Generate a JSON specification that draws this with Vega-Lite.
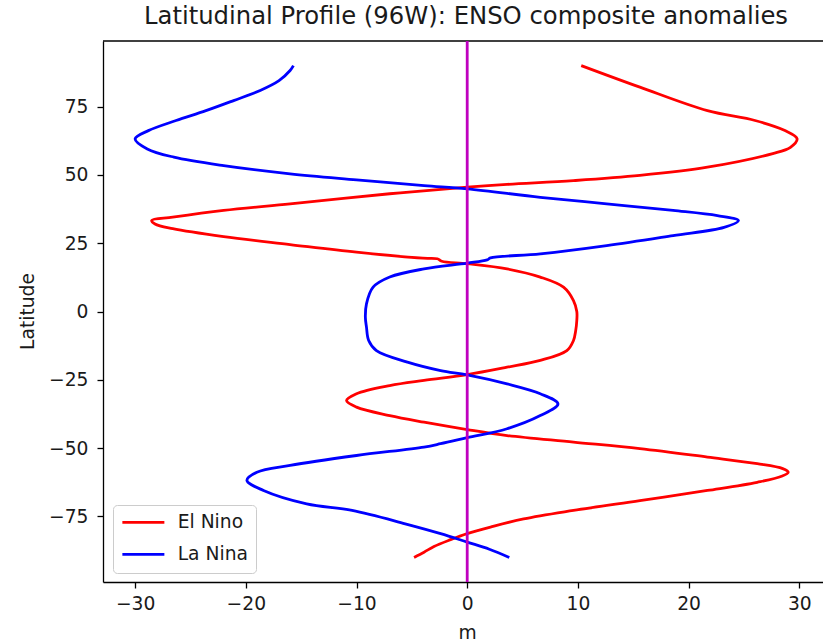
{
  "$schema": "https://vega.github.io/schema/vega-lite/v6.json",
  "width": 720,
  "height": 541,
  "autosize": "none",
  "padding": {"left": 103, "top": 41, "right": 0, "bottom": 59},
  "background": "white",
  "config": {
    "font": "DejaVu Sans",
    "view": {"stroke": null},
    "axis": {
      "grid": false,
      "domainColor": "black",
      "domainWidth": 1.3,
      "tickColor": "black",
      "tickWidth": 1.3,
      "tickSize": 6,
      "labelFont": "DejaVu Sans",
      "labelFontSize": 18.7,
      "labelColor": "#1a1a1a",
      "titleFont": "DejaVu Sans",
      "titleFontSize": 18.7,
      "titleFontWeight": "normal",
      "titleColor": "#1a1a1a"
    }
  },
  "title": {
    "text": "Latitudinal Profile (96W): ENSO composite anomalies",
    "font": "DejaVu Sans",
    "fontSize": 24.3,
    "fontWeight": "normal",
    "color": "#1a1a1a",
    "anchor": "middle",
    "baseline": "alphabetic",
    "offset": 14,
    "dx": 3,
    "dy": 23
  },
  "datasets": {
    "profiles": [
      {"s": "El Nino", "lat": 90, "v": 10.3},
      {"s": "El Nino", "lat": 82.1, "v": 15.6},
      {"s": "El Nino", "lat": 73.5, "v": 21.7},
      {"s": "El Nino", "lat": 69.9, "v": 26.0},
      {"s": "El Nino", "lat": 66.2, "v": 28.7},
      {"s": "El Nino", "lat": 63.2, "v": 29.8},
      {"s": "El Nino", "lat": 60.1, "v": 29.2},
      {"s": "El Nino", "lat": 57.8, "v": 27.6},
      {"s": "El Nino", "lat": 52.8, "v": 21.7},
      {"s": "El Nino", "lat": 49.8, "v": 15.6},
      {"s": "El Nino", "lat": 47.9, "v": 9.6},
      {"s": "El Nino", "lat": 46.5, "v": 3.6},
      {"s": "El Nino", "lat": 45.5, "v": 0},
      {"s": "El Nino", "lat": 43.1, "v": -7.0},
      {"s": "El Nino", "lat": 39.4, "v": -16.0},
      {"s": "El Nino", "lat": 37.0, "v": -22.0},
      {"s": "El Nino", "lat": 34.5, "v": -26.6},
      {"s": "El Nino", "lat": 33.3, "v": -28.5},
      {"s": "El Nino", "lat": 32.0, "v": -28.2},
      {"s": "El Nino", "lat": 30.3, "v": -26.6},
      {"s": "El Nino", "lat": 27.4, "v": -22.0},
      {"s": "El Nino", "lat": 24.5, "v": -16.0},
      {"s": "El Nino", "lat": 21.7, "v": -10.0},
      {"s": "El Nino", "lat": 19.5, "v": -4.0},
      {"s": "El Nino", "lat": 19.3, "v": -2.7},
      {"s": "El Nino", "lat": 18.4, "v": -2.3},
      {"s": "El Nino", "lat": 17.5, "v": 0},
      {"s": "El Nino", "lat": 15.6, "v": 3.6},
      {"s": "El Nino", "lat": 12.6, "v": 6.6},
      {"s": "El Nino", "lat": 8.9, "v": 8.7},
      {"s": "El Nino", "lat": 4.0, "v": 9.6},
      {"s": "El Nino", "lat": 0, "v": 9.9},
      {"s": "El Nino", "lat": -3.3, "v": 9.9},
      {"s": "El Nino", "lat": -7.0, "v": 9.8},
      {"s": "El Nino", "lat": -10.6, "v": 9.6},
      {"s": "El Nino", "lat": -14.3, "v": 9.0},
      {"s": "El Nino", "lat": -17.9, "v": 6.6},
      {"s": "El Nino", "lat": -20.4, "v": 3.6},
      {"s": "El Nino", "lat": -23.1, "v": 0},
      {"s": "El Nino", "lat": -25.2, "v": -3.9},
      {"s": "El Nino", "lat": -27.1, "v": -7.0},
      {"s": "El Nino", "lat": -30.1, "v": -10.0},
      {"s": "El Nino", "lat": -32.6, "v": -10.9},
      {"s": "El Nino", "lat": -35.0, "v": -10.0},
      {"s": "El Nino", "lat": -38.1, "v": -7.0},
      {"s": "El Nino", "lat": -40.5, "v": -3.9},
      {"s": "El Nino", "lat": -43.2, "v": 0},
      {"s": "El Nino", "lat": -45.4, "v": 3.6},
      {"s": "El Nino", "lat": -47.8, "v": 9.6},
      {"s": "El Nino", "lat": -50.2, "v": 15.6},
      {"s": "El Nino", "lat": -53.3, "v": 21.7},
      {"s": "El Nino", "lat": -55.7, "v": 26.2},
      {"s": "El Nino", "lat": -57.5, "v": 28.5},
      {"s": "El Nino", "lat": -58.8, "v": 29.0},
      {"s": "El Nino", "lat": -60.3, "v": 28.4},
      {"s": "El Nino", "lat": -62.5, "v": 26.2},
      {"s": "El Nino", "lat": -65.5, "v": 21.7},
      {"s": "El Nino", "lat": -69.2, "v": 15.6},
      {"s": "El Nino", "lat": -72.8, "v": 9.6},
      {"s": "El Nino", "lat": -75.9, "v": 5.1},
      {"s": "El Nino", "lat": -78.9, "v": 2.1},
      {"s": "El Nino", "lat": -81.3, "v": 0},
      {"s": "El Nino", "lat": -83.5, "v": -1.5},
      {"s": "El Nino", "lat": -86.0, "v": -3.0},
      {"s": "El Nino", "lat": -88.1, "v": -3.9},
      {"s": "El Nino", "lat": -90, "v": -4.8},
      {"s": "La Nina", "lat": 90, "v": -15.7},
      {"s": "La Nina", "lat": 88.2, "v": -16.0},
      {"s": "La Nina", "lat": 84.5, "v": -17.0},
      {"s": "La Nina", "lat": 80.9, "v": -18.7},
      {"s": "La Nina", "lat": 77.2, "v": -21.1},
      {"s": "La Nina", "lat": 73.5, "v": -23.6},
      {"s": "La Nina", "lat": 69.9, "v": -26.3},
      {"s": "La Nina", "lat": 66.2, "v": -28.8},
      {"s": "La Nina", "lat": 63.2, "v": -30.0},
      {"s": "La Nina", "lat": 59.5, "v": -28.9},
      {"s": "La Nina", "lat": 56.5, "v": -26.5},
      {"s": "La Nina", "lat": 53.4, "v": -22.0},
      {"s": "La Nina", "lat": 50.4, "v": -16.0},
      {"s": "La Nina", "lat": 48.2, "v": -10.0},
      {"s": "La Nina", "lat": 46.1, "v": -3.9},
      {"s": "La Nina", "lat": 44.9, "v": 0},
      {"s": "La Nina", "lat": 41.8, "v": 6.6},
      {"s": "La Nina", "lat": 39.4, "v": 12.6},
      {"s": "La Nina", "lat": 37.0, "v": 18.6},
      {"s": "La Nina", "lat": 35.1, "v": 22.6},
      {"s": "La Nina", "lat": 33.3, "v": 24.5},
      {"s": "La Nina", "lat": 30.8, "v": 23.2},
      {"s": "La Nina", "lat": 27.8, "v": 18.6},
      {"s": "La Nina", "lat": 24.1, "v": 12.6},
      {"s": "La Nina", "lat": 21.1, "v": 6.6},
      {"s": "La Nina", "lat": 19.6, "v": 2.1},
      {"s": "La Nina", "lat": 18.9, "v": 1.8},
      {"s": "La Nina", "lat": 17.7, "v": 0},
      {"s": "La Nina", "lat": 15.6, "v": -3.9},
      {"s": "La Nina", "lat": 12.6, "v": -7.0},
      {"s": "La Nina", "lat": 8.9, "v": -8.5},
      {"s": "La Nina", "lat": 2.8, "v": -9.1},
      {"s": "La Nina", "lat": -2.1, "v": -9.2},
      {"s": "La Nina", "lat": -5.7, "v": -9.1},
      {"s": "La Nina", "lat": -10.6, "v": -8.9},
      {"s": "La Nina", "lat": -14.3, "v": -8.2},
      {"s": "La Nina", "lat": -18.5, "v": -5.4},
      {"s": "La Nina", "lat": -21.6, "v": -2.4},
      {"s": "La Nina", "lat": -23.2, "v": 0},
      {"s": "La Nina", "lat": -26.5, "v": 3.6},
      {"s": "La Nina", "lat": -30.1, "v": 6.6},
      {"s": "La Nina", "lat": -33.8, "v": 8.2},
      {"s": "La Nina", "lat": -38.1, "v": 6.6},
      {"s": "La Nina", "lat": -42.9, "v": 3.6},
      {"s": "La Nina", "lat": -46.2, "v": 0},
      {"s": "La Nina", "lat": -48.4, "v": -2.4},
      {"s": "La Nina", "lat": -49.6, "v": -3.9},
      {"s": "La Nina", "lat": -52.7, "v": -10.0},
      {"s": "La Nina", "lat": -56.3, "v": -16.0},
      {"s": "La Nina", "lat": -58.8, "v": -19.0},
      {"s": "La Nina", "lat": -61.8, "v": -19.9},
      {"s": "La Nina", "lat": -65.5, "v": -18.4},
      {"s": "La Nina", "lat": -70.4, "v": -14.5},
      {"s": "La Nina", "lat": -72.8, "v": -10.4},
      {"s": "La Nina", "lat": -77.7, "v": -5.6},
      {"s": "La Nina", "lat": -81.3, "v": -2.4},
      {"s": "La Nina", "lat": -84.4, "v": 0},
      {"s": "La Nina", "lat": -87.0, "v": 2.0},
      {"s": "La Nina", "lat": -90, "v": 3.8}
    ],
    "zero": [{"x0": 0}],
    "frameTop": [{"ytop": 99}]
  },
  "layer": [
    {
      "data": {"name": "profiles"},
      "mark": {"type": "line", "strokeWidth": 2.8, "interpolate": "catmull-rom", "clip": true},
      "encoding": {
        "x": {
          "field": "v",
          "type": "quantitative",
          "title": "m",
          "scale": {"domain": [-32.9, 32.14], "nice": false, "zero": false},
          "axis": {
            "values": [-30, -20, -10, 0, 10, 20, 30],
            "labelPadding": 6,
            "titleX": 364,
            "titleY": 56,
            "titleBaseline": "alphabetic"
          }
        },
        "y": {
          "field": "lat",
          "type": "quantitative",
          "title": "Latitude",
          "scale": {"domain": [-99, 99], "nice": false, "zero": false},
          "axis": {
            "values": [-75, -50, -25, 0, 25, 50, 75],
            "labelPadding": 9,
            "titleX": -70,
            "titleY": 270,
            "titleBaseline": "alphabetic",
            "titleAngle": -90
          }
        },
        "color": {
          "field": "s",
          "type": "nominal",
          "scale": {"domain": ["El Nino", "La Nina"], "range": ["#ff0000", "#0000ff"]},
          "legend": {
            "title": null,
            "orient": "none",
            "legendX": 10,
            "legendY": 464,
            "padding": 8,
            "fillColor": "white",
            "strokeColor": "#cccccc",
            "cornerRadius": 4,
            "symbolType": "M-1.14,0H4.86",
            "symbolSize": 196,
            "symbolStrokeWidth": 2.8,
            "labelOffset": 38,
            "labelLimit": 82,
            "labelFontSize": 18.7,
            "labelFont": "DejaVu Sans",
            "labelColor": "#1a1a1a",
            "rowPadding": 12
          }
        },
        "order": {"field": "lat", "type": "quantitative"}
      }
    },
    {
      "data": {"name": "frameTop"},
      "mark": {"type": "rule", "color": "black", "strokeWidth": 1.3},
      "encoding": {"y": {"field": "ytop", "type": "quantitative"}}
    },
    {
      "data": {"name": "zero"},
      "mark": {"type": "rule", "color": "#bf00bf", "strokeWidth": 2.8},
      "encoding": {"x": {"field": "x0", "type": "quantitative"}}
    }
  ]
}
